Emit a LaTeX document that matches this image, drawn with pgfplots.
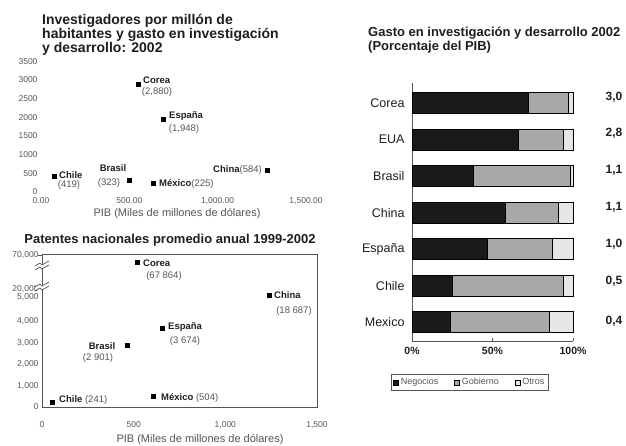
\documentclass[border=0pt]{standalone}
\usepackage{fontspec}
\setmainfont{Liberation Sans}
\usepackage{pgfplots}
\pgfplotsset{compat=1.18}
\definecolor{txt}{HTML}{1E1E1E}
\definecolor{tck}{HTML}{555555}
\definecolor{neg}{HTML}{1A1A1A}
\definecolor{gob}{HTML}{A8A8A8}
\definecolor{otr}{HTML}{E6E6E6}
\newcommand\fs[1]{\fontsize{#1}{#1}\selectfont}
\begin{document}
\begin{tikzpicture}
\path[use as bounding box] (0,0) rectangle (626pt,-445pt);

% ---------------- top-left scatter ----------------
\begin{axis}[
  at={(41pt,-194.2pt)}, anchor=south west, scale only axis,
  width=265pt, height=134.7pt,
  xmin=0, xmax=1500, ymin=-60, ymax=3550,
  axis x line*=bottom, axis y line*=left,
  axis line style={draw=none}, major tick length=0pt,
  xtick={0,500,1000,1500}, xticklabels={0.00,500.00,{1,000.00},{1,500.00}},
  ytick={0,500,...,3500}, yticklabels={0,500,1000,1500,2000,2500,3000,3500},
  ticklabel style={font=\fs{8.5}, text=tck},
  clip=false,
]
\addplot[only marks, mark=square*, mark size=2pt, black]
  coordinates {(549,2880) (690,1948) (74,419) (498,323) (634,225) (1279,584)};
\end{axis}
\node[anchor=north west, align=left, text=txt, font=\fs{14}\bfseries, inner sep=0pt]
  at (42pt,-14pt) {Investigadores por millón de\\[0pt]habitantes y gasto en investigación\\[0pt]y desarrollo: 2002};
\node[text=tck, font=\fs{11}, inner sep=0pt] at (177pt,-214pt) {PIB (Miles de millones de dólares)};
\begin{scope}[every node/.style={inner sep=0pt, font=\fs{9.5}, text=tck}]
\node[anchor=west, font=\fs{9.5}\bfseries, text=txt] at (143pt,-80pt) {Corea};
\node at (157pt,-92pt) {(2,880)};
\node[anchor=west, font=\fs{9.5}\bfseries, text=txt] at (169pt,-116pt) {España};
\node at (184pt,-129pt) {(1,948)};
\node[anchor=west, font=\fs{9.5}\bfseries, text=txt] at (59pt,-175pt) {Chile};
\node at (69pt,-185pt) {(419)};
\node[font=\fs{9.5}\bfseries, text=txt] at (113pt,-168pt) {Brasil};
\node at (109pt,-183pt) {(323)};
\node[anchor=west] at (159pt,-184pt) {\textbf{\textcolor{txt}{México}}(225)};
\node[anchor=east] at (262pt,-170pt) {\textbf{\textcolor{txt}{China}}(584)};
\end{scope}

% ---------------- bottom-left scatter (broken y axis) ----------------
% positions above 5,000 follow the broken scale: Corea (67 864) and China (18 687)
\begin{axis}[
  at={(42pt,-407pt)}, anchor=south west, scale only axis,
  width=275pt, height=153pt,
  xmin=0, xmax=1500, ymin=0, ymax=7160,
  axis line style={draw=tck, line width=0.9pt}, major tick length=0pt,
  xtick={0,500,1000,1500}, xticklabels={0,500,{1,000},{1,500}},
  ytick={0,1000,2000,3000,4000,5150,5500,7100},
  yticklabels={0,{1,000},{2,000},{3,000},{4,000},{5,000},{20,000},{70,000}},
  ticklabel style={font=\fs{8.5}, text=tck},
  x tick label style={yshift=-11pt},
  clip=false,
]
\addplot[only marks, mark=square*, mark size=2pt, black]
  coordinates {(518,6790) (1238,5209) (655,3674) (464,2901) (55,241) (605,504)};
\end{axis}
% axis break marks
\foreach \yy in {266,287}{
  \fill[white] (36pt,-\yy pt+2pt) rectangle (48pt,-\yy pt-2pt);
  \draw[tck, line width=0.7pt] (35pt,-\yy pt-4pt) -- (40pt,-\yy pt-1pt) -- (42pt,-\yy pt-3pt) -- (49pt,-\yy pt+1pt);
  \draw[tck, line width=0.7pt] (35pt,-\yy pt) -- (40pt,-\yy pt+3pt) -- (42pt,-\yy pt+1pt) -- (49pt,-\yy pt+5pt);
}
\draw[tck, line width=0.8pt] (38pt,-255pt) -- (42pt,-255pt);
\node[text=txt, font=\fs{13}\bfseries, inner sep=0pt] at (170pt,-240pt) {Patentes nacionales promedio anual 1999-2002};
\node[text=tck, font=\fs{11}, inner sep=0pt] at (200pt,-440pt) {PIB (Miles de millones de dólares)};
\begin{scope}[every node/.style={inner sep=0pt, font=\fs{9.5}, text=tck}]
\node[anchor=west, font=\fs{9.5}\bfseries, text=txt] at (143pt,-263pt) {Corea};
\node at (164pt,-276pt) {(67 864)};
\node[anchor=west, font=\fs{9.5}\bfseries, text=txt] at (274pt,-295pt) {China};
\node at (294pt,-311pt) {(18 687)};
\node[anchor=west, font=\fs{9.5}\bfseries, text=txt] at (168pt,-327pt) {España};
\node at (185pt,-341pt) {(3 674)};
\node[font=\fs{9.5}\bfseries, text=txt] at (102pt,-346pt) {Brasil};
\node at (98pt,-358pt) {(2 901)};
\node[anchor=west] at (59pt,-400pt) {\textbf{\textcolor{txt}{Chile}} (241)};
\node[anchor=west] at (161pt,-398pt) {\textbf{\textcolor{txt}{México}} (504)};
\end{scope}

% ---------------- right: stacked bars ----------------
\begin{axis}[
  at={(412pt,-341pt)}, anchor=south west, scale only axis,
  width=161pt, height=258pt,
  xbar stacked, bar width=21pt,
  xmin=0, xmax=100, ymin=-0.52, ymax=6.55,
  axis x line*=bottom, axis y line*=left,
  axis line style={draw=tck, line width=0.6pt},
  xtick={0,50,100}, xticklabels={0\%,50\%,100\%},
  xtick style={draw=tck}, tick align=inside, major tick length=3pt,
  x tick label style={font=\fs{10.5}\bfseries, text=txt, yshift=-3pt},
  ytick={0,...,6}, yticklabels={Mexico,Chile,España,China,Brasil,EUA,Corea},
  y tick label style={font=\fs{12.5}, text=txt, xshift=-4pt},
  ytick style={draw=none},
  clip=false,
  legend style={at={(0.36,-0.16)}, anchor=center, legend columns=3,
    font=\fs{9}, text=tck, draw=tck, inner sep=2pt,
    /tikz/every even column/.append style={column sep=14pt}},
  legend image code/.code={\draw[#1, draw=black] (0pt,-2.5pt) rectangle (5pt,2.5pt);},
]
\addplot[fill=neg, draw=black, line width=0.5pt] coordinates {(24,0) (25,1) (47,2) (58,3) (38,4) (66,5) (72,6)};
\addplot[fill=gob, draw=black, line width=0.5pt] coordinates {(61,0) (69,1) (40,2) (33,3) (60,4) (28,5) (25,6)};
\addplot[fill=otr, draw=black, line width=0.5pt] coordinates {(15,0) (6,1) (13,2) (9,3) (2,4) (6,5) (3,6)};
\legend{Negocios, Gobierno, Otros}
\end{axis}
\node[anchor=north west, align=left, text=txt, font=\fs{13}\bfseries, inner sep=0pt]
  at (368pt,-27pt) {Gasto en investigación y desarrollo 2002\\[1pt](Porcentaje del PIB)};
\begin{scope}[every node/.style={inner sep=0pt, font=\fs{12}\bfseries, text=txt}]
\node at (614pt,-97pt) {3,0};
\node at (614pt,-133pt) {2,8};
\node at (614pt,-170pt) {1,1};
\node at (614pt,-207pt) {1,1};
\node at (614pt,-244pt) {1,0};
\node at (614pt,-281pt) {0,5};
\node at (614pt,-321pt) {0,4};
\end{scope}
\end{tikzpicture}
\end{document}
